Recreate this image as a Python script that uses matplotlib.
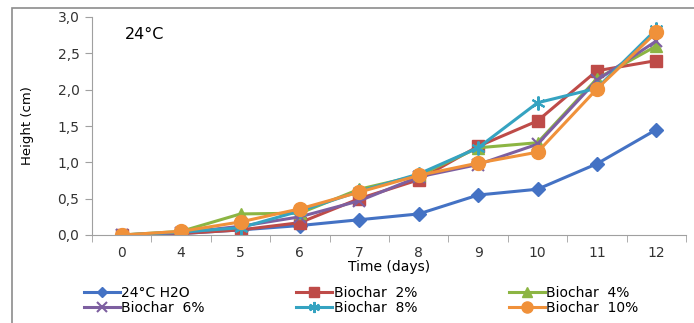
import numpy as np
import matplotlib.pyplot as plt
from matplotlib.patches import Rectangle

# Data
days = ["0", "4", "5", "6", "7", "8", "9", "10", "11", "12"]
h2o = [0.0, 0.02, 0.07, 0.13, 0.21, 0.29, 0.55, 0.63, 0.98, 1.45]
bio2 = [0.0, 0.02, 0.07, 0.17, 0.50, 0.76, 1.22, 1.57, 2.26, 2.40]
bio4 = [0.0, 0.05, 0.29, 0.30, 0.63, 0.82, 1.20, 1.27, 2.15, 2.60]
bio6 = [0.0, 0.03, 0.12, 0.25, 0.47, 0.80, 0.97, 1.25, 2.13, 2.67]
bio8 = [0.0, 0.04, 0.10, 0.33, 0.60, 0.84, 1.20, 1.82, 2.02, 2.83]
bio10 = [0.0, 0.05, 0.18, 0.36, 0.59, 0.82, 0.99, 1.14, 2.01, 2.79]

plt.rcParams['font.family'] = ['DejaVu Sans']

fig = plt.figure(figsize=(6.94, 3.23), dpi=100)
ax = fig.add_axes([92 / 694, 1 - 235 / 323, 594 / 694, 218 / 323])

# grey frame of the chart area
fig.patches.append(Rectangle((12 / 694, -0.1), 1.2, 1 - 8 / 323 + 0.1,
                             transform=fig.transFigure, fill=False,
                             edgecolor="#8c8c8c", linewidth=1.2))

x = np.arange(len(days))
l1, = ax.plot(x, h2o, color="#4472c4", marker="D", markersize=7, lw=2.2, label="24°C H2O")
l2, = ax.plot(x, bio2, color="#be4b48", marker="s", markersize=9, lw=2.2, label="Biochar  2%")
l3, = ax.plot(x, bio4, color="#8cb543", marker="^", markersize=9, lw=2.2, label="Biochar  4%")
l4, = ax.plot(x, bio6, color="#7d5fa0", marker="x", markersize=9, mew=1.5, lw=2.2, label="Biochar  6%")
l5, = ax.plot(x, bio8, color="#35a3c1", marker=(6, 2, 0), markersize=10, mew=1.5, lw=2.2, label="Biochar  8%")
l6, = ax.plot(x, bio10, color="#f0913a", marker="o", markersize=10, lw=2.2, label="Biochar  10%")

ax.set_xlim(-0.5, len(days) - 0.5)
ax.set_ylim(0, 3.0)
ax.set_yticks(np.arange(0, 3.01, 0.5))
ax.set_yticklabels([f"{v:.1f}".replace(".", ",") for v in np.arange(0, 3.01, 0.5)])
ax.set_xticks(x)
ax.set_xticklabels(days)
ax.set_xticks(np.arange(-0.5, len(days), 1), minor=True)
ax.tick_params(axis="x", which="major", length=0, pad=8)
ax.tick_params(axis="x", which="minor", length=5, color="#a0a0a0")
ax.tick_params(axis="y", length=5, color="#a0a0a0", pad=4)
ax.tick_params(labelsize=10, labelcolor="#333333")

for s in ["top", "right"]:
    ax.spines[s].set_visible(False)
for s in ["left", "bottom"]:
    ax.spines[s].set_color("#a0a0a0")

ax.set_xlabel("Time (days)", fontsize=10, labelpad=0)
ax.set_ylabel("Height (cm)", fontsize=9.5, labelpad=17)
ax.text(0.055, 0.92, "24°C", transform=ax.transAxes, fontsize=11.5, va="center")

# row-major order for a 3-column legend
handles = [l1, l4, l2, l5, l3, l6]
fig.legend(handles, [h.get_label() for h in handles],
           loc="upper left", bbox_to_anchor=(78 / 694, 1 - 280 / 323), ncol=3,
           frameon=False, fontsize=10, handlelength=2.6, handletextpad=0.1,
           columnspacing=6.6, labelspacing=0.1, borderaxespad=0, markerscale=0.8)

fig.savefig("out.png", dpi=100)
